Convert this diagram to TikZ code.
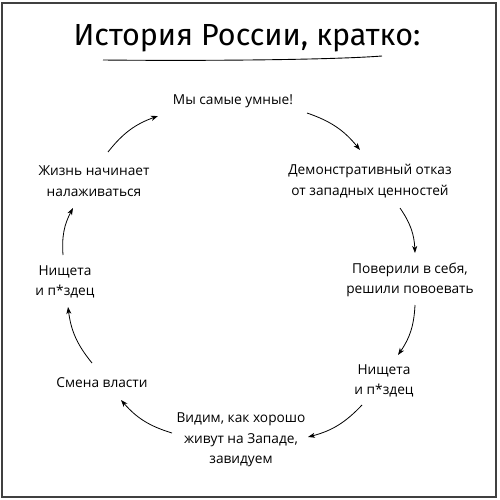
\documentclass[tikz,border=0pt]{standalone}
\usepackage{fontspec}
\setmainfont{Open Sans}
\newfontfamily\titlefont{Fira Sans}
\usetikzlibrary{arrows.meta}
\begin{document}
\begin{tikzpicture}[x=1pt,y=-1pt,
  lbl/.style={align=center,inner sep=0pt,font=\fontsize{13.7}{20.5}\selectfont},
  arr/.style={-{Stealth[length=7pt,width=5pt,inset=2pt]},line width=0.8pt,bend left=16},
]
\useasboundingbox (0,0) rectangle (500,500);
\draw[line width=1.5pt,black!75] (2,3) rectangle (496,497);
\node[font=\titlefont\fontsize{30.5}{36}\selectfont,inner sep=0pt] (title) at (247,38) {История России, кратко:};
\draw[line width=0.9pt] (103,60) .. controls (200,61) and (330,60) .. (382,56);

\node[lbl] (m) at (233,101) {Мы самые умные!};
\node[lbl] (d) at (370,181) {Демонстративный отказ\\от западных ценностей};
\node[lbl] (p) at (410,280) {Поверили в себя,\\решили повоевать};
\node[lbl] (n1) at (384,381) {Нищета\\и п*здец};
\node[lbl] (v) at (241,440) {Видим, как хорошо\\живут на Западе,\\завидуем};
\node[lbl] (s) at (102,383) {Смена власти};
\node[lbl] (n2) at (65,282) {Нищета\\и п*здец};
\node[lbl] (z) at (94,181) {Жизнь начинает\\налаживаться};

\draw[arr] ([shift={(74,12)}]m.center) to ([shift={(-10,-31)}]d.center);
\draw[arr] ([shift={(30,27)}]d.center) to ([shift={(5,-27)}]p.center);
\draw[arr] ([shift={(5,25)}]p.center) to ([shift={(14,-26)}]n1.center);
\draw[arr] ([shift={(-22,24)}]n1.center) to ([shift={(67,-3)}]v.center);
\draw[arr] ([shift={(-69,-7)}]v.center) to ([shift={(19,17)}]s.center);
\draw[arr] ([shift={(-10,-20)}]s.center) to ([shift={(3,25)}]n2.center);
\draw[arr] ([shift={(-2,-27)}]n2.center) to ([shift={(-21,27)}]z.center);
\draw[arr] ([shift={(14,-29)}]z.center) to ([shift={(-75,15)}]m.center);
\end{tikzpicture}
\end{document}
